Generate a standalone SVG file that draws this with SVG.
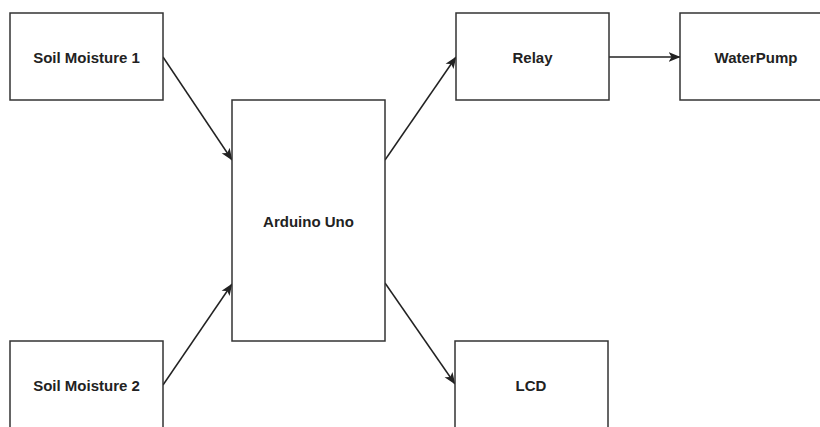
<svg xmlns="http://www.w3.org/2000/svg" width="820" height="427" viewBox="0 0 820 427">
<style>
.box{fill:#fff;stroke:#333;stroke-width:1.5}
.lbl{font-family:"Liberation Sans",Arial,sans-serif;font-weight:bold;font-size:15px;fill:#222;text-anchor:middle;dominant-baseline:central}
.edge{stroke:#222;stroke-width:1.5;fill:none;marker-end:url(#ah)}
</style>
<defs>
<marker id="ah" viewBox="0 0 10 10" refX="9.5" refY="5" markerWidth="12" markerHeight="12" markerUnits="userSpaceOnUse" orient="auto">
<path d="M0,1 L10,5 L0,9 L2.5,5 Z" fill="#222"/>
</marker>
</defs>
<rect width="820" height="427" fill="#fff"/>
<g id="connectors">
<line class="edge" x1="163" y1="57" x2="232" y2="160"/>
<line class="edge" x1="163" y1="385" x2="232" y2="284"/>
<line class="edge" x1="385" y1="160" x2="456" y2="57"/>
<line class="edge" x1="385" y1="283" x2="455" y2="384"/>
<line class="edge" x1="609" y1="57" x2="680" y2="57"/>
</g>
<g id="soil1"><rect class="box" x="10" y="13" width="153" height="87"/><text class="lbl" x="86.5" y="57">Soil Moisture 1</text></g>
<g id="soil2"><rect class="box" x="10" y="341" width="153" height="88"/><text class="lbl" x="86.5" y="385">Soil Moisture 2</text></g>
<g id="arduino"><rect class="box" x="232" y="100" width="153" height="241"/><text class="lbl" x="308.5" y="221">Arduino Uno</text></g>
<g id="relay"><rect class="box" x="456" y="13" width="153" height="87"/><text class="lbl" x="532.5" y="57">Relay</text></g>
<g id="waterpump"><rect class="box" x="680" y="13" width="153" height="87"/><text class="lbl" x="756" y="57">WaterPump</text></g>
<g id="lcd"><rect class="box" x="455" y="341" width="153" height="88"/><text class="lbl" x="531" y="385">LCD</text></g>
</svg>
